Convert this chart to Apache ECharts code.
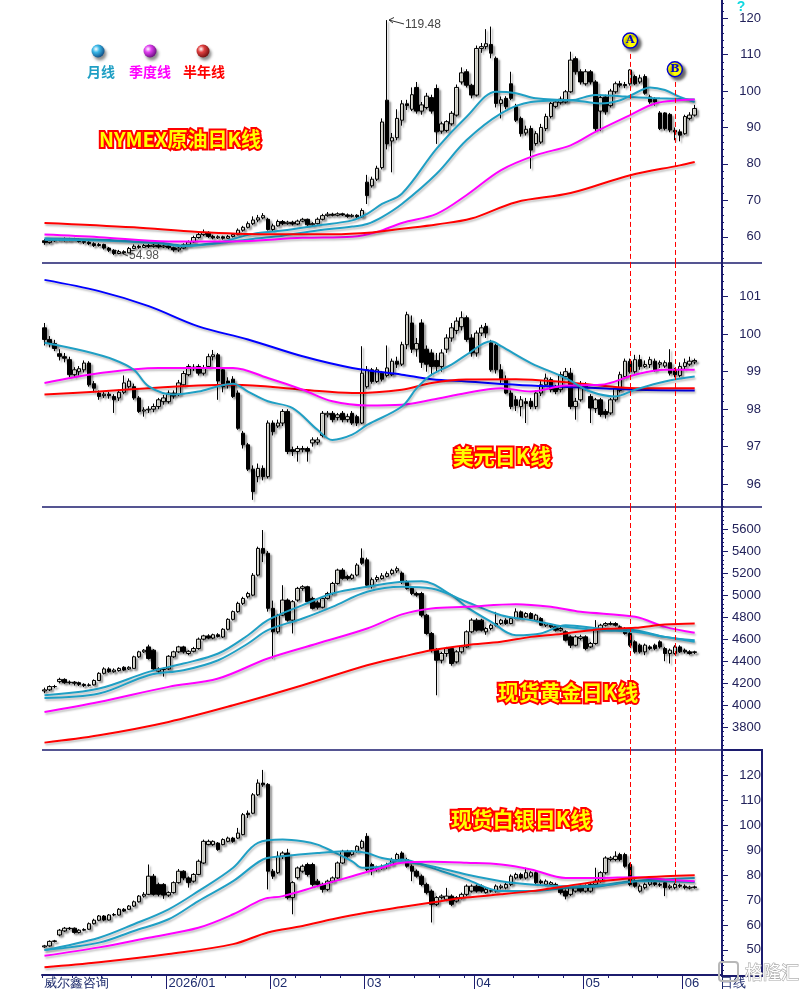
<!DOCTYPE html>
<html>
<head>
<meta charset="utf-8">
<title>原油 美元 黄金 白银 日K线</title>
<script src="https://cdn.jsdelivr.net/npm/echarts@6/dist/echarts.min.js"></script>
<style>
html,body{margin:0;padding:0;background:#fff;}
#main{width:805px;height:990px;}
</style>
</head>
<body>
<div id="main"></div>
<script>
// 横轴: 132个交易日 + 右侧留白
var slotCount = 137;
var xLabels = {0: '威尔鑫咨询', 25: '2026/01', 46: '02', 65: '03', 87: '04', 109: '05', 129: '06', 136: '日线'};
var monthTicks = [25, 46, 65, 87, 109, 129];
var weekTicks = [0, 6, 12, 18, 22, 31, 37, 41, 51, 56, 60, 70, 75, 80, 85, 95, 100, 105, 114, 119, 124];

// 纵轴刻度
var oilTicks = [60, 70, 80, 90, 100, 110, 120];
var usdTicks = [96, 97, 98, 99, 100, 101];
var goldTicks = [3800, 4000, 4200, 4400, 4600, 4800, 5000, 5200, 5400, 5600];
var silverTicks = [50, 60, 70, 80, 90, 100, 110, 120];

// K线 [开, 收, 低, 高]
var oilK = [
[58.9,58.4,57.8,59.4],[58.4,58.9,58.1,59.2],[58.9,59.1,58.6,59.5],[59.1,59.3,58.8,59.6],[59.3,59.0,58.7,59.8],
[59.0,59.4,58.8,59.7],[59.4,59.2,58.9,59.7],[59.2,58.7,58.4,59.5],[58.7,58.5,58.0,59.0],[58.5,58.1,57.7,58.8],
[58.1,57.6,57.2,58.5],[57.6,57.9,57.3,58.3],[57.9,56.9,56.5,58.1],[56.9,56.3,55.8,57.2],[56.3,55.4,54.98,56.6],
[55.4,55.9,55.2,56.4],[55.9,55.6,55.2,56.3],[55.6,56.8,55.5,57.2],[56.8,57.4,56.6,57.9],[57.4,57.1,56.7,57.8],
[57.1,57.6,56.9,58.0],[57.6,57.3,56.9,58.0],[57.3,57.7,57.0,58.1],[57.7,57.2,56.8,58.0],[57.2,57.5,56.9,57.9],
[57.5,57.0,56.6,57.9],[57.0,56.4,55.9,57.3],[56.4,56.9,55.9,57.3],[56.9,57.8,56.6,58.2],[57.8,58.6,57.5,59.0],
[58.6,59.8,58.3,60.3],[59.8,60.6,59.5,61.4],[60.6,61.2,60.2,62.0],[61.2,60.1,59.7,61.5],[60.1,59.7,59.3,60.5],
[59.7,60.0,59.4,60.4],[60.0,59.6,59.2,60.3],[59.6,60.1,59.4,60.5],[60.1,60.6,59.8,61.0],[60.6,61.8,60.4,62.3],
[61.8,62.6,61.4,63.0],[62.6,63.6,62.3,64.2],[63.6,64.6,63.2,65.6],[64.6,65.2,64.0,66.0],[65.2,65.8,64.8,66.5],
[64.8,62.0,61.7,65.2],[62.0,63.0,61.6,63.6],[63.0,64.2,62.8,64.7],[64.2,63.6,63.2,64.6],[63.6,64.0,63.3,64.4],
[64.0,63.5,63.1,64.4],[63.5,64.3,63.2,64.7],[64.3,64.8,64.0,65.2],[64.8,63.3,63.0,65.0],[63.3,63.6,63.0,64.0],
[63.6,64.8,63.4,65.3],[64.8,65.8,64.5,66.3],[65.8,66.2,65.5,66.8],[66.2,65.9,65.6,66.6],[65.9,66.3,65.6,66.7],
[66.3,66.0,65.7,66.6],[66.0,65.6,65.2,66.4],[65.6,65.9,65.3,66.3],[65.9,65.5,65.1,66.2],[65.5,67.2,65.2,67.8],
[75.0,71.3,69.0,77.0],[74.0,75.8,73.5,76.5],[75.8,78.8,75.3,79.5],[79.0,91.5,78.5,92.5],[97.5,85.5,84.0,119.48],
[86.3,87.2,77.7,88.5],[87.2,92.5,86.5,95.0],[92.0,96.5,90.5,97.5],[96.5,96.0,94.8,97.6],[95.0,99.0,94.5,101.0],
[101.0,94.5,93.8,102.5],[94.5,96.2,93.5,97.0],[95.5,98.6,95.0,99.5],[98.2,94.5,93.8,99.0],[100.7,88.8,85.5,101.8],
[89.0,91.0,88.3,91.6],[89.2,91.6,88.7,92.0],[91.0,93.9,90.5,94.5],[93.4,101.0,93.0,101.8],[102.5,105.0,101.8,106.5],
[105.3,101.6,101.0,106.0],[101.6,98.9,98.0,102.0],[98.9,111.7,98.5,112.5],[111.7,112.2,110.5,113.2],[112.2,113.0,111.5,117.0],
[112.8,110.4,109.0,117.7],[109.0,96.6,95.5,109.5],[96.6,97.6,92.5,98.5],[98.0,95.7,95.0,98.6],[102.0,98.0,97.5,105.3],
[95.7,92.0,91.5,96.5],[92.5,88.3,87.5,93.0],[88.5,89.5,87.8,90.5],[89.7,83.8,78.7,90.5],[85.6,88.3,85.0,89.0],
[86.0,90.0,85.5,91.0],[89.7,93.0,89.0,93.8],[93.0,96.6,92.5,97.0],[95.8,97.0,95.3,97.6],[96.8,97.8,96.3,98.5],
[97.0,99.8,96.6,100.3],[99.8,108.5,99.5,110.8],[108.9,105.3,104.5,109.5],[105.3,102.5,101.8,106.0],[102.0,105.3,101.5,106.0],
[105.3,102.5,101.8,105.8],[102.5,89.7,89.0,103.0],[94.5,98.2,89.0,99.0],[98.4,94.3,93.5,99.0],[96.0,100.0,95.5,100.6],
[99.8,102.0,99.3,102.6],[102.0,101.6,101.0,102.8],[101.8,101.5,100.8,102.5],[102.0,105.8,101.5,106.0],[104.0,102.0,101.6,104.5],
[102.5,103.6,102.0,104.5],[104.0,99.4,99.0,104.6],[98.4,97.0,96.5,99.0],[97.8,97.0,96.0,98.3],[94.0,89.7,89.3,94.5],
[94.0,89.7,89.2,94.2],[93.6,89.3,88.7,94.0],[89.2,88.8,86.5,90.0],[88.8,87.9,86.2,89.5],[88.3,93.0,88.0,93.5],
[92.5,93.4,92.0,94.2],[93.4,95.2,93.0,96.2]
];
var usdK = [
[100.17,99.86,99.7,100.3],[99.86,99.75,99.65,99.95],[99.75,99.62,99.55,99.85],[99.48,99.41,99.3,99.6],[99.4,99.36,99.25,99.5],
[99.32,98.92,98.85,99.4],[98.92,99.05,98.85,99.12],[99.0,99.08,98.9,99.15],[99.05,99.23,98.98,99.3],[99.23,98.65,98.6,99.28],
[98.68,98.56,98.45,98.75],[98.43,98.34,98.25,98.5],[98.36,98.4,98.3,98.48],[98.4,98.36,98.28,98.46],[98.34,98.25,97.9,98.4],
[98.3,98.45,98.22,98.52],[98.45,98.7,98.4,98.9],[98.6,98.75,98.55,98.82],[98.6,98.3,98.25,98.68],[98.3,97.94,97.9,98.35],
[97.95,97.98,97.8,98.05],[97.98,98.0,97.9,98.08],[98.0,98.07,97.92,98.15],[98.07,98.25,98.0,98.3],[98.2,98.3,98.12,98.38],
[98.2,98.43,98.15,98.5],[98.43,98.35,98.28,98.5],[98.4,98.7,98.35,98.78],[98.65,98.95,98.6,99.02],[98.92,99.14,98.88,99.2],
[99.12,99.1,99.02,99.2],[99.14,98.96,98.9,99.2],[98.96,99.1,98.9,99.18],[99.14,99.4,99.1,99.48],[99.4,99.45,99.3,99.58],
[99.45,98.75,98.25,99.5],[99.05,98.6,98.45,99.1],[98.75,98.65,98.55,98.85],[98.8,98.34,98.3,98.88],[98.43,97.49,97.45,98.5],
[97.36,97.05,96.95,97.42],[97.05,96.4,96.35,97.1],[96.4,95.8,95.58,96.5],[96.2,96.42,96.05,96.55],[96.42,96.2,96.1,96.5],
[96.2,97.63,96.15,97.7],[97.63,97.4,97.3,97.7],[97.55,97.63,97.5,97.72],[97.63,97.94,97.55,98.0],[97.94,96.87,96.8,98.0],
[96.92,96.87,96.75,97.0],[96.87,96.95,96.6,97.02],[96.92,96.95,96.85,97.02],[96.95,96.88,96.6,97.0],[97.1,97.18,97.0,97.25],
[97.12,97.18,97.05,97.25],[97.3,97.89,97.25,97.95],[97.85,97.89,97.78,97.95],[97.89,97.72,97.65,97.95],[97.78,97.85,97.7,97.9],
[97.89,97.72,97.65,97.95],[97.72,97.8,97.65,97.88],[97.89,97.63,97.58,97.95],[97.8,97.63,97.55,97.85],[97.63,98.96,97.6,99.68],
[98.6,99.05,98.55,99.15],[99.05,98.74,98.68,99.1],[98.74,99.05,98.7,99.12],[98.96,98.8,98.74,99.02],[98.9,99.1,98.85,99.7],
[98.92,99.28,98.88,99.35],[99.28,99.2,99.1,99.4],[99.2,99.72,99.15,99.8],[99.72,100.52,99.6,100.6],[100.3,99.6,99.5,100.5],
[99.6,99.75,99.4,99.9],[100.3,99.25,99.1,100.4],[99.6,99.2,99.0,99.7],[99.5,99.14,98.9,99.6],[99.3,99.14,99.0,99.5],
[99.14,99.5,99.0,99.6],[99.6,99.9,99.5,100.0],[99.9,100.17,99.8,100.3],[100.1,100.35,100.0,100.45],[100.2,100.44,100.1,100.61],
[100.44,99.86,99.8,100.5],[99.9,99.5,99.4,100.0],[99.5,100.03,99.4,100.1],[100.03,100.17,99.95,100.25],[100.21,100.03,99.9,100.3],
[99.77,99.05,99.0,99.85],[99.7,99.05,98.95,99.75],[99.05,98.79,98.7,99.2],[98.79,98.43,98.4,98.9],[98.43,98.07,98.0,98.5],
[98.25,98.1,97.95,98.35],[98.07,98.25,97.81,98.35],[98.2,98.15,97.63,98.3],[98.21,98.07,98.0,98.3],[98.07,98.43,98.0,98.5],
[98.43,98.65,98.35,98.75],[98.65,98.83,98.6,98.95],[98.79,98.52,98.45,98.85],[98.56,98.47,98.4,98.65],[98.52,98.92,98.45,99.0],
[98.87,99.0,98.8,99.1],[98.96,98.07,98.0,99.1],[98.07,98.21,97.72,98.3],[98.25,98.65,98.2,98.75],[98.6,98.65,98.5,98.72],
[98.34,98.03,97.63,98.4],[98.02,98.25,97.9,98.3],[98.25,97.86,97.8,98.3],[97.94,97.86,97.75,98.0],[97.9,98.25,97.85,98.3],
[98.25,98.56,98.2,98.6],[98.5,98.92,98.45,99.0],[98.87,99.28,98.8,99.35],[99.28,99.0,98.95,99.35],[99.0,99.32,98.95,99.45],
[99.32,99.14,99.05,99.45],[99.14,99.19,99.1,99.3],[99.19,99.32,99.1,99.4],[99.28,99.05,99.0,99.35],[99.2,99.24,99.1,99.3],
[99.15,99.24,99.1,99.3],[99.24,98.96,98.9,99.6],[99.05,98.92,98.85,99.1],[98.9,99.14,98.85,99.25],[99.14,99.24,99.05,99.35],
[99.2,99.28,99.15,99.4],[99.26,99.3,99.2,99.35]
];
var goldK = [
[4130,4140,4110,4160],[4140,4170,4130,4180],[4170,4170,4155,4185],[4215,4235,4200,4250],[4235,4205,4195,4245],
[4205,4210,4190,4225],[4210,4200,4180,4220],[4205,4190,4175,4215],[4190,4180,4165,4200],[4180,4185,4170,4200],
[4185,4225,4180,4235],[4225,4290,4220,4300],[4290,4330,4280,4345],[4330,4305,4295,4345],[4305,4320,4295,4335],
[4315,4335,4305,4345],[4345,4320,4310,4355],[4330,4345,4320,4355],[4335,4440,4330,4450],[4440,4485,4430,4495],
[4485,4500,4475,4510],[4530,4425,4415,4550],[4500,4330,4320,4510],[4310,4330,4290,4345],[4330,4325,4260,4340],
[4330,4445,4320,4455],[4440,4485,4430,4495],[4485,4530,4475,4540],[4530,4485,4470,4540],[4470,4490,4455,4500],
[4490,4515,4480,4530],[4515,4600,4505,4615],[4600,4630,4590,4640],[4630,4610,4600,4645],[4610,4640,4600,4650],
[4640,4625,4615,4655],[4620,4690,4610,4700],[4690,4780,4680,4790],[4780,4850,4770,4860],[4850,4925,4840,4940],
[4925,4970,4910,4985],[4985,5015,4970,5030],[5000,5180,4990,5200],[5182,5424,5170,5440],[5424,5380,5300,5591],
[5380,4880,4850,5400],[4880,4667,4425,4950],[4667,4818,4650,4830],[4818,4955,4810,5090],[4955,4773,4760,4970],
[4773,4940,4652,4955],[4955,5061,4940,5075],[5061,5076,5040,5090],[5076,4940,4930,5085],[4970,4880,4870,4985],
[4930,4890,4870,4950],[4890,4970,4880,4985],[4970,5015,4960,5030],[5015,5106,5000,5120],[5106,5227,5095,5240],
[5227,5152,5140,5245],[5170,5152,5135,5185],[5152,5182,5140,5195],[5182,5273,5170,5290],[5335,5290,5275,5424],
[5320,5090,5070,5340],[5090,5140,5060,5160],[5140,5160,5120,5180],[5150,5175,5140,5200],[5170,5195,5160,5215],
[5195,5225,5180,5240],[5220,5240,5200,5260],[5200,5120,5100,5215],[5120,5061,5050,5135],[5061,5015,5000,5075],
[5015,5000,4985,5030],[5015,4818,4800,5030],[4818,4652,4640,4830],[4652,4500,4480,4665],[4500,4409,4091,4520],
[4409,4470,4380,4485],[4470,4515,4440,4530],[4515,4379,4360,4530],[4394,4485,4380,4500],[4485,4530,4470,4545],
[4530,4667,4520,4680],[4667,4773,4655,4790],[4773,4682,4670,4790],[4773,4682,4670,4785],[4667,4697,4640,4710],
[4697,4727,4680,4740],[4727,4742,4715,4848],[4742,4773,4730,4785],[4773,4742,4730,4790],[4742,4788,4735,4800],
[4788,4848,4780,4880],[4848,4788,4780,4860],[4803,4833,4795,4845],[4833,4788,4780,4845],[4773,4818,4765,4830],
[4788,4727,4720,4800],[4727,4742,4710,4755],[4727,4712,4700,4740],[4712,4682,4670,4720],[4682,4697,4670,4710],
[4667,4591,4580,4680],[4621,4545,4520,4635],[4545,4621,4535,4635],[4606,4621,4590,4640],[4621,4515,4500,4635],
[4530,4561,4520,4575],[4561,4697,4550,4773],[4697,4727,4685,4740],[4727,4742,4715,4755],[4742,4735,4725,4760],
[4742,4727,4715,4755],[4712,4697,4685,4725],[4697,4652,4640,4710],[4652,4545,4530,4665],[4576,4485,4470,4590],
[4546,4485,4470,4560],[4485,4546,4455,4560],[4530,4515,4500,4545],[4546,4515,4500,4560],[4576,4530,4515,4590],
[4515,4470,4400,4530],[4470,4500,4379,4515],[4470,4530,4460,4545],[4530,4485,4475,4545],[4500,4485,4470,4515],
[4485,4470,4460,4500],[4480,4485,4465,4495]
];
var silverK = [
[51.2,51.6,50.8,52.0],[51.6,53.4,51.3,53.8],[53.4,53.6,53.0,54.0],[56.0,57.9,55.5,58.4],[57.6,58.7,57.2,59.2],
[58.7,58.5,58.0,59.2],[58.7,57.0,56.5,59.0],[57.0,57.9,56.6,58.3],[57.9,58.2,57.5,58.7],[58.3,60.5,58.0,61.0],
[60.5,61.9,60.2,62.5],[61.9,63.6,61.5,64.0],[63.6,62.0,61.5,64.0],[62.0,64.0,61.8,64.4],[64.0,64.2,63.5,64.8],
[64.0,66.3,63.8,66.8],[66.3,65.6,65.2,66.8],[66.3,67.6,66.0,68.0],[67.6,69.3,67.2,69.8],[69.3,71.6,69.0,72.0],
[71.6,72.3,71.0,73.2],[72.3,79.6,72.0,84.3],[79.6,72.3,71.8,80.5],[76.3,72.3,71.5,77.0],[76.3,72.0,70.5,76.8],
[72.0,73.0,71.3,73.5],[73.0,77.0,72.6,77.5],[77.0,81.6,76.6,82.5],[81.6,78.9,78.0,82.0],[78.9,77.0,75.0,79.5],
[77.6,80.3,77.0,80.8],[80.3,85.6,80.0,86.3],[84.9,93.6,84.5,94.3],[92.3,93.6,92.0,94.3],[92.3,93.6,91.8,94.0],
[92.9,90.3,89.8,93.3],[92.3,94.3,92.0,94.8],[93.6,94.9,93.2,95.5],[94.9,93.6,93.0,95.4],[94.9,96.9,94.5,99.0],
[96.3,104.3,96.0,105.0],[104.9,104.3,103.0,106.0],[104.9,112.3,104.5,113.0],[112.3,117.0,111.8,118.5],[117.0,116.3,115.5,122.3],
[116.5,81.6,74.3,117.0],[81.6,79.6,78.5,82.5],[81.0,87.6,80.5,89.6],[87.6,88.9,86.5,89.6],[88.9,71.0,70.3,90.6],
[71.0,77.0,64.3,77.6],[79.0,82.9,78.3,83.5],[81.6,83.6,81.0,84.3],[84.3,80.3,79.5,85.0],[84.3,76.3,75.5,85.0],
[77.6,76.3,75.2,78.5],[76.3,74.3,73.0,77.0],[74.3,77.6,73.6,78.2],[77.6,78.9,77.0,79.5],[78.9,84.9,78.5,85.5],
[84.9,89.6,84.5,90.2],[89.6,87.6,87.0,90.2],[88.3,89.6,87.8,90.0],[89.6,91.6,89.0,92.0],[91.0,93.6,90.5,94.3],
[95.6,82.3,81.0,96.9],[84.3,82.3,80.0,85.0],[82.3,82.9,81.5,83.8],[82.9,83.6,82.2,84.3],[83.6,84.3,82.6,85.0],
[84.3,86.3,83.8,87.0],[86.3,88.3,85.6,89.0],[88.9,86.3,85.8,89.6],[86.3,83.6,83.0,87.0],[83.6,81.6,77.6,84.3],
[81.6,79.6,79.0,82.3],[79.6,76.3,75.6,80.3],[76.3,73.0,72.3,77.0],[73.6,68.3,61.0,74.3],[68.3,71.0,67.6,71.6],
[71.0,71.6,70.3,72.3],[70.3,71.6,69.6,74.9],[71.6,68.3,67.6,72.3],[69.6,71.0,69.0,71.6],[71.0,72.3,70.3,73.0],
[72.3,75.6,71.6,76.3],[73.6,75.6,73.0,76.3],[75.6,73.6,73.0,76.3],[75.6,73.6,73.0,76.3],[73.0,74.3,72.6,75.0],
[73.6,73.8,73.0,74.6],[73.6,75.6,73.0,76.3],[75.0,75.6,74.3,76.3],[74.9,76.3,74.3,77.0],[76.3,79.6,75.6,80.3],
[78.9,80.3,78.3,81.0],[80.3,78.9,78.3,81.0],[78.9,81.0,78.3,83.0],[79.6,81.0,79.0,81.6],[81.0,77.0,76.3,81.6],
[77.6,77.0,76.3,78.3],[76.3,77.6,75.6,78.3],[76.3,77.0,75.6,77.6],[75.6,76.3,74.9,77.0],[74.9,73.0,72.3,75.6],
[73.6,71.6,70.3,74.3],[72.3,74.9,71.6,75.6],[73.6,74.9,73.0,75.6],[75.6,73.6,73.0,76.3],[73.6,75.6,73.0,76.3],
[73.6,76.3,73.0,77.0],[76.3,77.6,75.6,83.0],[77.6,81.0,77.0,81.6],[81.0,86.9,80.3,87.6],[86.3,86.9,85.6,87.6],
[86.3,87.6,85.6,89.6],[88.3,86.3,85.6,89.0],[88.3,83.6,83.0,89.0],[84.3,76.3,75.6,85.0],[77.6,75.6,75.0,78.3],
[73.6,75.6,73.0,76.3],[75.0,76.3,74.3,77.0],[76.3,77.6,75.6,78.3],[77.0,76.3,75.6,77.6],[76.3,76.0,75.3,77.0],
[77.0,75.0,71.6,77.6],[75.0,75.6,74.3,76.3],[75.0,76.3,74.3,77.0],[76.0,75.6,74.9,76.6],[75.6,75.0,74.3,76.3],
[74.8,75.2,74.3,75.8],[75.0,75.3,74.6,75.8]
];

// 均线 [交易日序号, 数值]
var oilMaA = [[0,59.6],[11,59.2],[23,58.4],[28,57.6],[35,58.4],[42,60.8],[48,61.7],[55,63.1],[62,64.5],[65,66.3],[68,69],[72,71.8],[79,84.2],[85,92.9],[91,99.8],[95,99.4],[99,98],[106,97.5],[111,98.9],[116,98.6],[118,98.4],[124,98],[131,97.7]];
var oilMaB = [[0,59.2],[11,59],[23,58.2],[28,57.4],[35,58.2],[42,59.4],[48,60.3],[55,61.7],[62,62.8],[65,63.5],[68,65.4],[72,69],[79,77.3],[85,86.5],[92,93.9],[98,97],[106,97.5],[112,96.6],[116,97.5],[119,99.4],[122,101],[125,100.3],[128,98.4],[131,97]];
var oilMa60 = [[0,60.6],[11,59.9],[25,58.7],[38,58.7],[52,59.7],[62,60],[67,61.3],[72,63.8],[79,66.3],[85,71.4],[92,78.3],[99,82.4],[106,85.1],[111,88.8],[118,93.4],[123,96.6],[128,97.5],[131,97.7]];
var oilMa120 = [[0,63.8],[18,62.6],[31,61.3],[45,60.7],[58,60.7],[66,61.2],[72,62.2],[79,63.4],[86,65],[95,69.5],[106,72],[118,76.9],[128,79.6],[131,80.5]];

var usdMa20 = [[0,99.77],[8,99.55],[14,99.32],[18,99.05],[21,98.61],[26,98.39],[31,98.47],[35,98.61],[38,98.68],[41,98.47],[45,98.21],[50,98.03],[55,97.45],[58,97.18],[62,97.32],[65,97.58],[72,98.07],[75,98.56],[78,98.92],[82,99.19],[85,99.45],[90,99.81],[92,99.68],[98,99.23],[105,98.83],[110,98.47],[115,98.34],[119,98.52],[125,98.74],[131,98.87]];
var usdMa60 = [[0,98.7],[11,98.96],[23,99.1],[31,99.1],[38,99.1],[45,98.83],[52,98.52],[58,98.21],[65,98.1],[72,98.12],[78,98.25],[85,98.43],[92,98.56],[98,98.47],[105,98.63],[112,98.65],[119,98.92],[125,99.05],[131,99.05]];
var usdMa120 = [[0,98.39],[11,98.47],[21,98.56],[31,98.63],[38,98.65],[52,98.52],[62,98.43],[72,98.52],[78,98.7],[85,98.79],[95,98.8],[105,98.72],[112,98.63],[119,98.56],[131,98.56]];
var usdMa250 = [[0,101.45],[11,101.15],[21,100.75],[31,100.21],[41,99.86],[52,99.41],[62,99.1],[72,98.92],[78,98.8],[85,98.74],[98,98.63],[112,98.56],[119,98.52],[131,98.5]];

var goldMaA = [[0,4091],[11,4152],[21,4303],[28,4379],[35,4470],[41,4636],[45,4773],[52,4909],[58,5015],[65,5076],[72,5121],[76,5127],[82,5000],[85,4894],[90,4758],[95,4636],[100,4652],[105,4727],[112,4697],[119,4682],[125,4621],[131,4591]];
var goldMaB = [[0,4067],[11,4106],[21,4273],[28,4318],[35,4409],[41,4561],[45,4682],[52,4788],[58,4894],[65,5030],[72,5076],[78,5061],[85,4940],[92,4818],[98,4773],[105,4712],[112,4682],[119,4667],[125,4621],[131,4576]];
var goldMa60 = [[0,3939],[11,4030],[25,4167],[35,4243],[45,4425],[55,4561],[65,4697],[72,4825],[78,4879],[85,4894],[95,4918],[102,4894],[108,4848],[119,4803],[125,4712],[131,4658]];
var goldMa120 = [[0,3661],[11,3728],[25,3849],[38,4000],[52,4182],[65,4364],[72,4440],[78,4500],[85,4546],[92,4576],[98,4621],[105,4652],[112,4691],[119,4703],[125,4733],[131,4742]];

var silverMaA = [[0,49.9],[11,54.9],[18,60.3],[25,66.3],[31,73.6],[38,83],[43,93],[48,94.3],[52,93.6],[55,92.3],[58,89.6],[62,85.6],[64,83],[68,83.6],[72,86.3],[76,84.3],[80,81.6],[85,78.3],[92,73.6],[98,73.6],[105,74.9],[112,75.6],[119,77.6],[125,78.3],[131,78.9]];
var silverMaB = [[0,49.9],[11,52.9],[18,57.6],[25,62.3],[31,69.6],[38,77.6],[44,86.3],[48,87.6],[55,88.9],[62,89.6],[65,88.9],[68,86.9],[72,85.6],[78,83.6],[85,80.3],[92,77.6],[98,76.3],[105,75.6],[112,76],[119,77.6],[125,77.6],[131,77.3]];
var silverMa60 = [[0,47.6],[11,51],[21,54.9],[31,58.9],[38,64.3],[44,70.3],[48,71.6],[55,75.6],[62,79.6],[68,83],[72,85],[78,85.4],[85,85],[92,84.3],[98,82.3],[105,78.9],[112,78.9],[119,79.2],[125,78.3],[131,77.6]];
var silverMa120 = [[0,43],[11,45],[25,48.3],[38,52.3],[45,57],[52,59.6],[58,62.3],[65,65],[72,67.2],[78,69],[85,71],[92,72.3],[98,73.6],[105,75.6],[112,77.6],[119,78.9],[125,79.6],[131,80]];

// A、B 两个标记日
var markA = 118, markB = 127;

var NAVY = '#1c1c6e';
var CYAN = '#1f9fc4', MAGENTA = '#ff00ff', RED = '#ff0000', BLUE = '#0000ff';
var NUM_FONT = 'Liberation Sans, Arial, sans-serif';
var CJK_FONT = '"Noto Sans CJK SC", sans-serif';

var categories = [];
for (var i = 0; i < slotCount; i++) categories.push('c' + i);

var panels = [
    {top: 0, height: 263, min: 52.8, max: 125, split: 7, ticks: oilTicks, k: oilK,
     lines: [[oilMaA, CYAN], [oilMaB, CYAN], [oilMa60, MAGENTA], [oilMa120, RED]],
     aFrom: 110.2, bFrom: 102.5, to: 52.8},
    {top: 263, height: 244, min: 95.39, max: 101.9, split: 6, ticks: usdTicks, k: usdK,
     lines: [[usdMa250, BLUE], [usdMa120, RED], [usdMa60, MAGENTA], [usdMa20, CYAN]],
     aFrom: 101.9, bFrom: 101.9, to: 95.39},
    {top: 507, height: 243, min: 3594, max: 5800, split: 10, ticks: goldTicks, k: goldK,
     lines: [[goldMaA, CYAN], [goldMaB, CYAN], [goldMa60, MAGENTA], [goldMa120, RED]],
     aFrom: 5800, bFrom: 5800, to: 3594},
    {top: 750, height: 226, min: 39.9, max: 130.3, split: 9, ticks: silverTicks, k: silverK,
     lines: [[silverMaA, CYAN], [silverMaB, CYAN], [silverMa60, MAGENTA], [silverMa120, RED]],
     aFrom: 130.3, bFrom: 130.3, to: 76.3}
];

var grids = [], xAxes = [], yAxes = [], series = [];

panels.forEach(function (p, g) {
    grids.push({left: 42, width: 680, top: p.top, height: p.height});
    xAxes.push({type: 'category', gridIndex: g, data: categories, boundaryGap: true, show: false});
    yAxes.push({
        type: 'value', gridIndex: g, position: 'right', min: p.min, max: p.max,
        splitNumber: p.split, splitLine: {show: false},
        axisLine: {show: true, lineStyle: {color: NAVY, width: 2}},
        axisTick: {show: true, length: 6, customValues: p.ticks, lineStyle: {color: NAVY}},
        minorTick: {show: true, splitNumber: 5, length: 2, lineStyle: {color: NAVY}},
        axisLabel: {customValues: p.ticks, align: 'right', margin: 39, color: '#22225a',
                    fontSize: 13, fontFamily: NUM_FONT,
                    formatter: function (v) { return String(v); }}
    });

    var candle = {
        type: 'candlestick', xAxisIndex: g, yAxisIndex: g, data: p.k, barWidth: 4,
        itemStyle: {color: '#ecece4', color0: '#000', borderColor: '#000', borderColor0: '#000',
                    borderWidth: 1, shadowColor: 'rgba(0,0,0,0.35)', shadowBlur: 2,
                    shadowOffsetX: 2, shadowOffsetY: 2},
        markLine: {
            silent: true, symbol: ['none', 'none'], label: {show: false},
            lineStyle: {color: RED, type: [5, 3], width: 1},
            data: [
                [{coord: [markA, p.aFrom]}, {coord: [markA, p.to]}],
                [{coord: [markB, p.bFrom]}, {coord: [markB, p.to]}]
            ]
        }
    };
    if (g === 0) {
        candle.markPoint = {
            silent: true, symbol: 'circle', symbolSize: 15,
            itemStyle: {color: '#ffff00', borderColor: '#0000cc', borderWidth: 1.5,
                        shadowColor: 'rgba(0,0,0,0.6)', shadowBlur: 3, shadowOffsetX: 3, shadowOffsetY: 3},
            label: {show: true, color: '#0000cc', fontWeight: 'bold', fontSize: 11,
                    fontFamily: 'DejaVu Serif, serif', formatter: function (d) { return d.name; }},
            data: [{name: 'A', coord: [markA, 113.85]}, {name: 'B', coord: [markB, 106.0]}]
        };
    }
    series.push(candle);

    p.lines.forEach(function (ln) {
        series.push({
            type: 'line', xAxisIndex: g, yAxisIndex: g, data: ln[0], symbol: 'none', silent: true,
            smooth: 0.35,
            lineStyle: {color: ln[1], width: 2, shadowColor: 'rgba(0,0,0,0.25)', shadowBlur: 2,
                        shadowOffsetX: 1, shadowOffsetY: 2},
            z: 3
        });
    });
});

// 底部日期轴 (第4个图共用)
xAxes[3] = {
    type: 'category', gridIndex: 3, position: 'bottom', data: categories, boundaryGap: true,
    axisLine: {show: true, lineStyle: {color: NAVY, width: 2}},
    axisTick: {show: true, length: 3, lineStyle: {color: NAVY},
               interval: function (idx) { return weekTicks.indexOf(idx) >= 0; }},
    axisLabel: {show: true, align: 'left', margin: 2, color: '#1c2a6c', fontSize: 13, fontFamily: NUM_FONT,
                interval: function (idx) { return xLabels[idx] !== undefined; },
                formatter: function (v) { var t = xLabels[+v.slice(1)]; return t === undefined ? '' : t; }}
};
xAxes.push({
    type: 'category', gridIndex: 3, position: 'bottom', offset: 0, data: categories, boundaryGap: true,
    axisLine: {show: false}, axisLabel: {show: false},
    axisTick: {show: true, length: 14, lineStyle: {color: NAVY},
               interval: function (idx) { return monthTicks.indexOf(idx) >= 0; }}
});

function sep(y) {
    return {type: 'line', shape: {x1: 42, y1: y, x2: 762, y2: y}, style: {stroke: NAVY, lineWidth: 1.5}, silent: true};
}
function title(text, x, y, size) {
    return {type: 'text', x: x, y: y, z: 50, silent: true,
        style: {text: text, fill: '#ffff00', stroke: '#ff0000', lineWidth: 4, strokeFirst: true,
                font: 'bold ' + size + 'px ' + CJK_FONT, align: 'center', verticalAlign: 'middle',
                shadowColor: 'rgba(0,0,0,0.45)', shadowBlur: 4, shadowOffsetX: 3, shadowOffsetY: 3}};
}
function ball(x, c1, c2) {
    return {type: 'circle', shape: {cx: x, cy: 51, r: 6.5}, silent: true,
        style: {fill: {type: 'radial', x: 0.35, y: 0.35, r: 0.75,
                       colorStops: [{offset: 0, color: '#ffffff'}, {offset: 0.35, color: c1}, {offset: 1, color: c2}]},
                shadowColor: 'rgba(0,0,0,0.45)', shadowBlur: 3, shadowOffsetX: 2, shadowOffsetY: 3}};
}
function legendText(text, x, color) {
    return {type: 'text', x: x, y: 72, silent: true,
        style: {text: text, fill: color, font: 'bold 14px ' + CJK_FONT, align: 'center', verticalAlign: 'middle',
                shadowColor: 'rgba(0,0,0,0.3)', shadowBlur: 3, shadowOffsetX: 2, shadowOffsetY: 2}};
}

var graphics = [
    sep(263), sep(507), sep(750),
    {type: 'line', shape: {x1: 722, y1: 976, x2: 762, y2: 976}, style: {stroke: NAVY, lineWidth: 2}, silent: true},
    {type: 'rect', shape: {x: 722, y: 750, width: 40, height: 226}, style: {fill: 'none', stroke: NAVY, lineWidth: 2}, silent: true},
    ball(98, '#3ab8e8', '#0b3f78'), ball(150, '#e040f0', '#5a0870'), ball(203, '#e04040', '#600808'),
    legendText('月线', 101, CYAN), legendText('季度线', 150, MAGENTA), legendText('半年线', 204, RED),
    title('NYMEX原油日K线', 180, 139, 20),
    title('美元日K线', 502, 456, 21),
    title('现货黄金日K线', 568, 692, 21),
    title('现货白银日K线', 521, 819, 21),
    // 最高价 / 最低价 标注
    {type: 'polyline', shape: {points: [[389, 20], [404, 24]]}, style: {stroke: '#333', lineWidth: 1}, silent: true},
    {type: 'polyline', shape: {points: [[394, 17.5], [389, 20], [393, 23]]}, style: {stroke: '#333', fill: 'none', lineWidth: 1}, silent: true},
    {type: 'text', x: 405, y: 25, silent: true, style: {text: '119.48', fill: '#444', font: '12px ' + NUM_FONT, verticalAlign: 'middle'}},
    {type: 'polyline', shape: {points: [[115, 250], [128, 256]]}, style: {stroke: '#555', lineWidth: 1}, silent: true},
    {type: 'text', x: 129, y: 256, silent: true, style: {text: '54.98', fill: '#555', font: '12px ' + NUM_FONT, verticalAlign: 'middle'}},
    {type: 'text', x: 741, y: 7, silent: true, style: {text: '?', fill: '#10d8e0', font: 'bold 14px ' + NUM_FONT, align: 'center', verticalAlign: 'middle'}},
    // 水印
    {type: 'rect', shape: {x: 719, y: 962, width: 19, height: 19, r: 3}, style: {fill: 'none', stroke: '#b8b8b8', lineWidth: 2}, silent: true, z: 60},
    {type: 'text', x: 745, y: 972, silent: true, z: 60,
     style: {text: '格隆汇', fill: '#ffffff', stroke: '#a8a8a8', lineWidth: 1.2, font: '18px ' + CJK_FONT, verticalAlign: 'middle'}}
];

var myChart = echarts.init(document.getElementById('main'));
myChart.setOption({
    backgroundColor: '#ffffff',
    animation: false,
    grid: grids,
    xAxis: xAxes,
    yAxis: yAxes,
    series: series,
    graphic: graphics
});
</script>
</body>
</html>
